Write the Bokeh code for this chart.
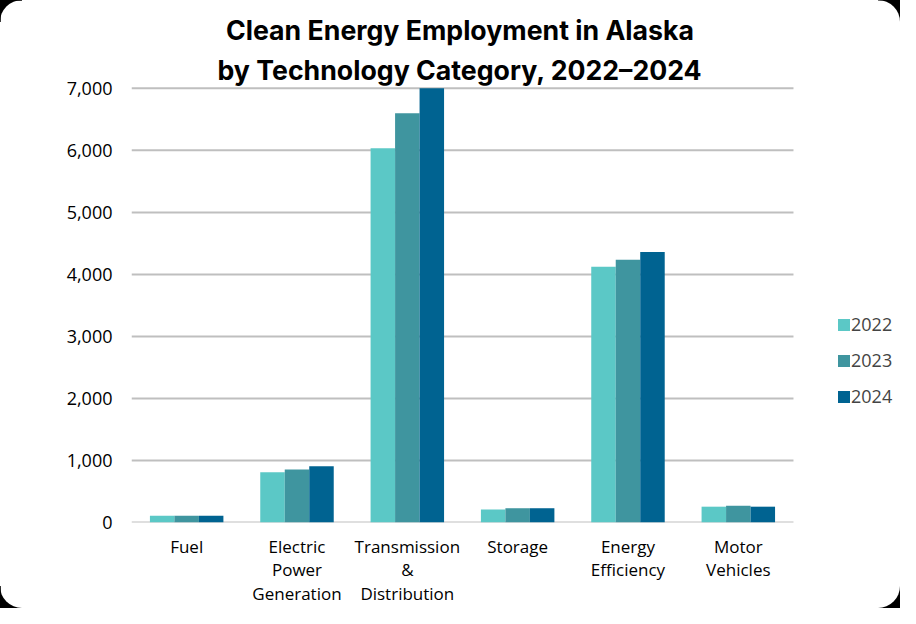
from bokeh.plotting import figure
from bokeh.models import (ColumnDataSource, Legend, LegendItem, Label,
                          NumeralTickFormatter, FixedTicker, InlineStyleSheet)
from bokeh.transform import dodge
from bokeh.embed import file_html
from bokeh.resources import INLINE

categories = ["Fuel", "Electric\nPower\nGeneration", "Transmission\n&\nDistribution",
              "Storage", "Energy\nEfficiency", "Motor\nVehicles"]
years = ["2022", "2023", "2024"]
v2022 = [110, 810, 6035, 210, 4125, 255]
v2023 = [110, 855, 6600, 230, 4235, 270]
v2024 = [110, 905, 7000, 230, 4360, 255]
y_ticks = [0, 1000, 2000, 3000, 4000, 5000, 6000, 7000]
title_lines = ["Clean Energy Employment in Alaska", "by Technology Category, 2022\u20132024"]

colors = ["#5BC8C6", "#3F959F", "#006391"]

n = len(categories)
xc = [i + 0.5 for i in range(n)]
src = ColumnDataSource(dict(x=xc, y2022=v2022, y2023=v2023, y2024=v2024))

# frame spans the full drawing area; categories occupy x in [0, n]
p = figure(x_range=(0, 6.97), y_range=(0, 8416),
           width=900, height=608, output_backend="svg", toolbar_location=None,
           min_border_left=131, min_border_right=0, min_border_top=0, min_border_bottom=85)
css = (":host{background:"
       "linear-gradient(#fff,#fff) center / calc(100% - 44px) 100% no-repeat,"
       "linear-gradient(#fff,#fff) center / 100% calc(100% - 44px) no-repeat,"
       "#000;}"
       " .bk-Canvas{border-radius:22px;overflow:hidden;}")
p.stylesheets = [InlineStyleSheet(css=css)]
p.outline_line_color = None
p.background_fill_color = "white"
p.border_fill_color = "white"
p.xgrid.grid_line_color = None
p.ygrid.grid_line_color = None

# horizontal gridlines across the category area only
p.segment(x0=[0] * len(y_ticks), x1=[n] * len(y_ticks), y0=y_ticks, y1=y_ticks,
          line_color="#BFBFBF", line_width=2)

renderers = []
for i, (yr, col) in enumerate(zip(years, colors)):
    r = p.vbar(x=dodge("x", (i - 1) * 0.222), top="y" + yr, width=0.222,
               source=src, fill_color=col, line_color=None)
    renderers.append(r)

p.yaxis.ticker = FixedTicker(ticks=y_ticks)
p.yaxis.formatter = NumeralTickFormatter(format="0,0")
p.xaxis.ticker = FixedTicker(ticks=xc)
p.xaxis.major_label_overrides = {x: c for x, c in zip(xc, categories)}
p.xaxis.bounds = (0, n)
p.yaxis.bounds = (0, 7000)

for ax in (p.xaxis, p.yaxis):
    ax.axis_line_color = None
    ax.major_tick_line_color = None
    ax.minor_tick_line_color = None
    ax.major_tick_out = 0
    ax.major_tick_in = 0
    ax.major_label_text_font = "Open Sans"
    ax.major_label_text_color = "#000000"
p.yaxis.major_label_text_font_size = "18px"
p.xaxis.major_label_text_font_size = "17px"
p.yaxis.major_label_standoff = 19
p.xaxis.major_label_standoff = 12
p.xaxis.major_label_text_line_height = 1.04

legend = Legend(items=[LegendItem(label=yr, renderers=[r]) for yr, r in zip(years, renderers)],
                location=(705, 114), orientation="vertical", padding=0, margin=0,
                glyph_width=15, glyph_height=15, label_height=20, spacing=12,
                label_standoff=0, border_line_color=None, background_fill_alpha=0,
                label_text_font="Open Sans", label_text_font_size="18px")
p.add_layout(legend)

for txt, yy in zip(title_lines, [493, 453]):
    p.add_layout(Label(x=328.5, y=yy, x_units="screen", y_units="screen", text=txt,
                       text_align="center", text_baseline="middle",
                       text_font="Inter", text_font_style="bold", text_font_size="26.7px",
                       text_color="#000000"))

open("out.html", "w").write(file_html(p, INLINE))
